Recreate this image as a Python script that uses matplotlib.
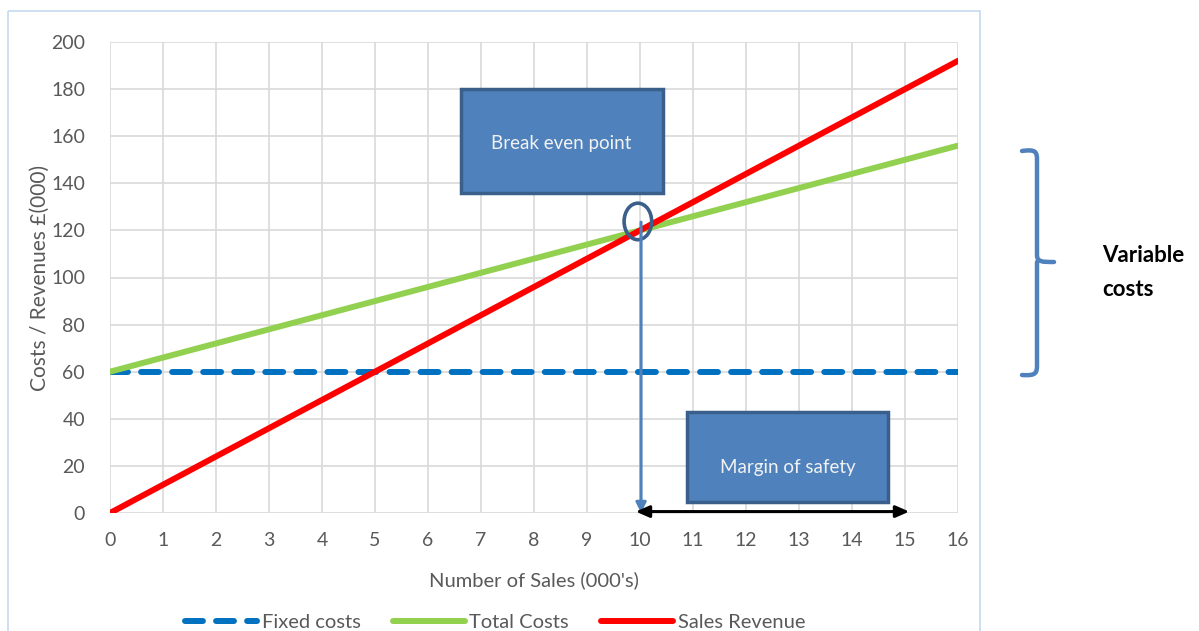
import numpy as np
import matplotlib
matplotlib.use("Agg")
import matplotlib.pyplot as plt
from matplotlib.patches import Rectangle, Ellipse, FancyArrowPatch, PathPatch
from matplotlib.path import Path

plt.rcParams["font.family"] = ["Lato", "DejaVu Sans"]

# data
sales = np.array([0, 16])  # number of sales (000's)
fixed_costs = np.array([60, 60])
total_costs = np.array([60, 156])
sales_revenue = np.array([0, 192])
break_even = (10, 120)
margin_end = 15
x_ticks = list(range(0, 17))
y_ticks = list(range(0, 201, 20))

grey = "#595959"
box_face = "#4F81BD"
box_edge = "#3A5F8B"

fig = plt.figure(figsize=(11.99, 6.31), dpi=100)

# overlay for frame, brace and side text (pixel coords)
ov = fig.add_axes([0, 0, 1, 1], zorder=0)
ov.set_xlim(0, 1199)
ov.set_ylim(631, 0)
ov.axis("off")
ov.add_patch(Rectangle((8, 11), 972, 640, fill=False, edgecolor="#C6D9F1", lw=1.2, clip_on=True))

ax = fig.add_axes([110 / 1199, 1 - 513 / 631, 848 / 1199, 471 / 631], zorder=1)
ax.patch.set_alpha(0)

ax.plot(sales, fixed_costs, color="#0070C0", lw=4.3, dashes=(3.0, 2.2),
        dash_capstyle="round", label="Fixed costs", zorder=3)
ax.plot(sales, total_costs, color="#92D050", lw=4.3, solid_capstyle="round",
        label="Total Costs", zorder=3)
ax.plot(sales, sales_revenue, color="#FF0000", lw=4.3, solid_capstyle="round",
        label="Sales Revenue", zorder=4)

ax.set_xlim(0, 16)
ax.set_ylim(0, 200)
ax.set_xticks(x_ticks)
ax.set_yticks(y_ticks)
ax.grid(True, color="#D9D9D9", lw=1.2)
ax.set_axisbelow(True)
for s in ax.spines.values():
    s.set_visible(False)
ax.tick_params(length=0, labelsize=14, labelcolor=grey)
ax.tick_params(axis="x", pad=14)
ax.tick_params(axis="y", pad=18)
ax.set_xlabel("Number of Sales (000's)", fontsize=14.5, color=grey, labelpad=16)
ax.set_ylabel("Costs / Revenues £(000)", fontsize=15, color=grey, labelpad=1)

# annotation boxes
ax.add_patch(Rectangle((6.62, 135.9), 3.81, 44.1, facecolor=box_face, edgecolor=box_edge,
                       lw=2.5, zorder=6, clip_on=False))
ax.text(8.52, 157, "Break even point", ha="center", va="center", color="#F2F2F2",
        fontsize=13.5, zorder=7)
ax.add_patch(Rectangle((10.89, 4.6), 3.79, 38.3, facecolor=box_face, edgecolor=box_edge,
                       lw=2.5, zorder=6, clip_on=False))
ax.text(12.78, 19.5, "Margin of safety", ha="center", va="center", color="#F2F2F2",
        fontsize=13.5, zorder=7)

# break even marker
ax.add_patch(Ellipse((break_even[0] - 0.04, break_even[1] + 3.8), 0.52, 15.5, fill=False,
                     edgecolor=box_edge, lw=2.6, zorder=8))
ax.add_patch(FancyArrowPatch((break_even[0] + 0.02, break_even[1] + 3.5),
                             (break_even[0] + 0.02, 0), arrowstyle="-|>,head_length=6,head_width=3",
                             color=box_face, lw=2.2, zorder=8, clip_on=False,
                             shrinkA=0, shrinkB=0))
ax.add_patch(FancyArrowPatch((break_even[0] - 0.08, 0.6), (margin_end + 0.08, 0.6),
                             arrowstyle="<|-|>,head_length=8,head_width=3.5",
                             color="black", lw=2.2, zorder=9, clip_on=False,
                             shrinkA=0, shrinkB=0))

leg = ax.legend(loc="center", bbox_to_anchor=(495 / 1199, 1 - 622 / 631),
                bbox_transform=fig.transFigure, ncol=3, frameon=False, fontsize=14.5,
                handlelength=3.6, handletextpad=0.2, columnspacing=1.6)
for t in leg.get_texts():
    t.set_color(grey)

# variable costs brace
verts = [(1022, 151), (1036, 149), (1037, 152), (1037, 160),
         (1037, 255), (1037, 262), (1042, 262), (1054, 262)]
codes = [Path.MOVETO, Path.CURVE4, Path.CURVE4, Path.CURVE4,
         Path.LINETO, Path.CURVE4, Path.CURVE4, Path.CURVE4]
ov.add_patch(PathPatch(Path(verts, codes), fill=False, edgecolor=box_face, lw=3.2,
                       capstyle="round"))
verts2 = [(1037, 262), (1037, 270), (1037, 365), (1037, 373), (1036, 376), (1022, 375)]
codes2 = [Path.MOVETO, Path.LINETO, Path.LINETO, Path.CURVE4, Path.CURVE4, Path.CURVE4]
ov.add_patch(PathPatch(Path(verts2, codes2), fill=False, edgecolor=box_face, lw=3.2,
                       capstyle="round"))
ov.text(1102, 255, "Variable", fontsize=16, fontweight="bold", va="center", ha="left")
ov.text(1102, 289, "costs", fontsize=16, fontweight="bold", va="center", ha="left")

fig.savefig("out.png", dpi=100)
